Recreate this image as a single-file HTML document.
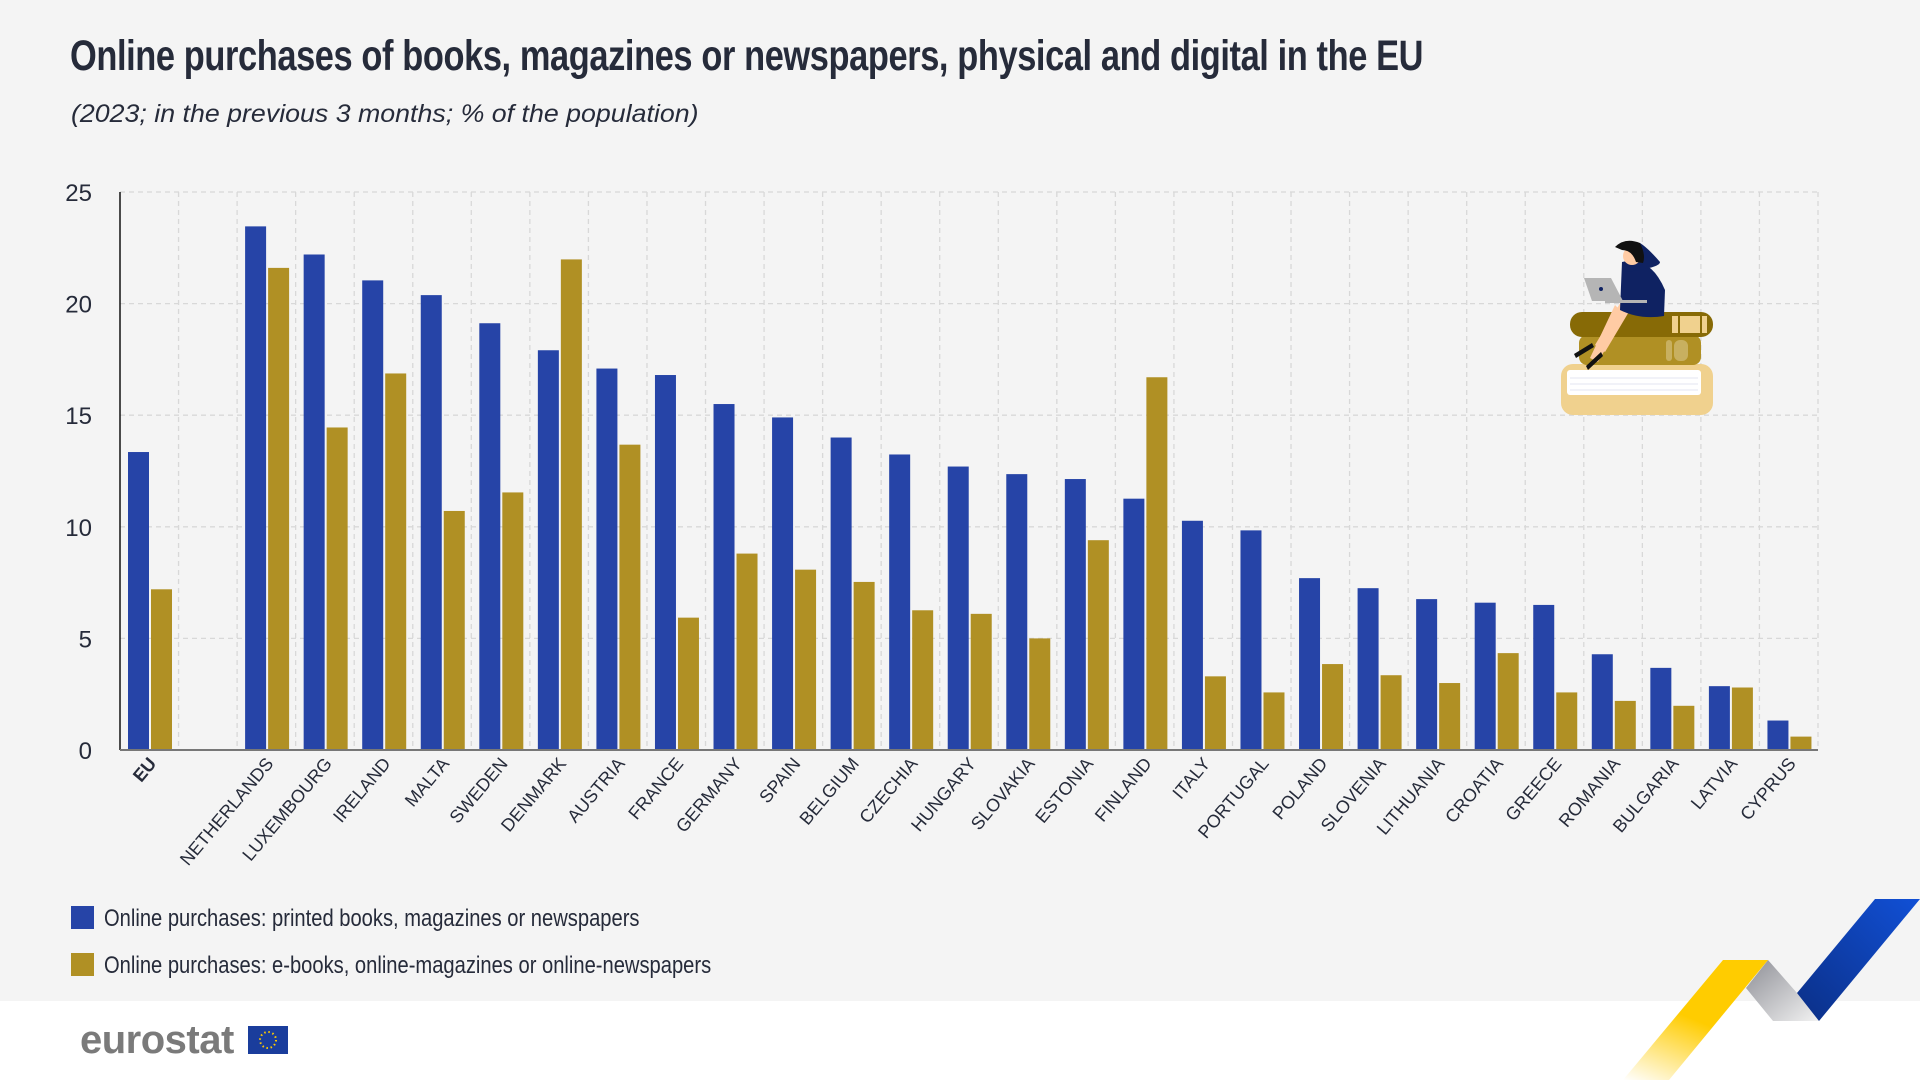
<!DOCTYPE html>
<html><head><meta charset="utf-8">
<style>
html,body{margin:0;padding:0;}
body{width:1920px;height:1080px;background:#f4f4f4;position:relative;overflow:hidden;font-family:"Liberation Sans Narrow","Liberation Sans",sans-serif;}
#title{position:absolute;left:70px;top:32px;font-size:43px;font-weight:bold;color:#262b3a;letter-spacing:-0.5px;white-space:nowrap;transform:scaleX(0.80);transform-origin:0 0;}
#subtitle{position:absolute;left:71px;top:100px;font-family:"Liberation Sans",sans-serif;font-style:italic;font-size:25px;color:#262b3a;white-space:nowrap;transform:scaleX(1.07);transform-origin:0 0;}
#footer{position:absolute;left:0;top:1001px;width:1920px;height:79px;background:#fff;}
</style></head>
<body>
<div id="title">Online purchases of books, magazines or newspapers, physical and digital in the EU</div>
<div id="subtitle">(2023; in the previous 3 months; % of the population)</div>
<div id="footer"></div>
<svg id="chart" width="1920" height="1080" style="position:absolute;left:0;top:0" xmlns="http://www.w3.org/2000/svg"></svg>
<script>
const categories=["EU","","NETHERLANDS","LUXEMBOURG","IRELAND","MALTA","SWEDEN","DENMARK","AUSTRIA","FRANCE","GERMANY","SPAIN","BELGIUM","CZECHIA","HUNGARY","SLOVAKIA","ESTONIA","FINLAND","ITALY","PORTUGAL","POLAND","SLOVENIA","LITHUANIA","CROATIA","GREECE","ROMANIA","BULGARIA","LATVIA","CYPRUS"];
const printed=[13.35,null,23.46,22.2,21.04,20.38,19.12,17.91,17.09,16.8,15.5,14.9,14.0,13.24,12.7,12.36,12.14,11.26,10.27,9.84,7.7,7.25,6.76,6.6,6.5,4.29,3.68,2.86,1.32];
const digital=[7.2,null,21.6,14.45,16.87,10.71,11.54,21.98,13.68,5.93,8.8,8.08,7.53,6.26,6.1,5.0,9.4,16.7,3.3,2.58,3.85,3.35,3.0,4.34,2.58,2.2,1.98,2.8,0.6];
const yTicks=[0,5,10,15,20,25];
const legendLabels=["Online purchases: printed books, magazines or newspapers","Online purchases: e-books, online-magazines or online-newspapers"];

const NS="http://www.w3.org/2000/svg";
const svg=document.getElementById('chart');
const X0=120,X1=1818,Y0=750,Y1=192,YMAX=25;
const slot=(X1-X0)/categories.length;
function y(v){return Y0-(v/YMAX)*(Y0-Y1);}
function xs(i){return X0+i*slot;}
function mk(tag,attrs,parent){const e=document.createElementNS(NS,tag);for(const k in attrs)e.setAttribute(k,attrs[k]);(parent||svg).appendChild(e);return e;}

yTicks.forEach(t=>{
  if(t>0){const g=mk('line',{x1:X0,x2:X1,y1:y(t),y2:y(t),stroke:'#d8d8d8','stroke-width':1.3,'stroke-dasharray':'5,4'});
  
  }
  const tl=mk('text',{x:92,y:y(t)+9,'text-anchor':'end','font-size':24,fill:'#262b3a','font-family':'"Liberation Sans Narrow","Liberation Sans",sans-serif'});
  tl.textContent=t;
  
  
});
for(let i=1;i<=categories.length;i++){
  const g=mk('line',{x1:xs(i),x2:xs(i),y1:Y1,y2:Y0,stroke:'#d8d8d8','stroke-width':1.3,'stroke-dasharray':'5,4'});
  
  
}
const bw=21;
categories.forEach((c,i)=>{
  const sx=xs(i);
  if(printed[i]!=null){
    const b=mk('rect',{x:sx+8,y:y(printed[i]),width:bw,height:Y0-y(printed[i]),fill:'#2644a7'});
    
    
  }
  if(digital[i]!=null){
    const b=mk('rect',{x:sx+8+bw+2,y:y(digital[i]),width:bw,height:Y0-y(digital[i]),fill:'#b09024'});
    
    
  }
  if(c){
    const cx=sx+slot/2+8, cy=764;
    const t=mk('text',{x:cx,y:cy,'text-anchor':'end','font-size':18,fill:'#262b3a','font-weight':c==='EU'?'bold':'normal',transform:'rotate(-50 '+cx+' '+cy+')','font-family':'"Liberation Sans Narrow","Liberation Sans",sans-serif'});
    t.textContent=c;
    
    
  }
});
const ya=mk('line',{x1:X0,x2:X0,y1:Y1,y2:Y0,stroke:'#111','stroke-width':1.5});


const xa=mk('line',{x1:X0,x2:X1,y1:Y0,y2:Y0,stroke:'#777','stroke-width':2});


const lcol=['#2644a7','#b09024'];
legendLabels.forEach((l,i)=>{
  const ly=906+i*47;
  const r=mk('rect',{x:71,y:ly,width:23,height:23,fill:lcol[i]});
  
  
  const t=mk('text',{x:104,y:ly+20,'font-size':24,fill:'#262b3a',transform:'translate(104 0) scale(0.84 1) translate(-104 0)','font-family':'"Liberation Sans Narrow","Liberation Sans",sans-serif'});
  t.textContent=l;
  
  
});
</script>
<svg width="1920" height="1080" style="position:absolute;left:0;top:0" xmlns="http://www.w3.org/2000/svg">
<defs>
<linearGradient id="gy" x1="0" y1="1" x2="0.5" y2="0"><stop offset="0" stop-color="#fff" /><stop offset="0.6" stop-color="#ffcc00"/></linearGradient>
<linearGradient id="gg" x1="0" y1="0" x2="1" y2="1"><stop offset="0" stop-color="#8e8f96"/><stop offset="1" stop-color="#f2f2f2"/></linearGradient>
<linearGradient id="gb" x1="1" y1="0" x2="0" y2="1"><stop offset="0" stop-color="#1150d6"/><stop offset="1" stop-color="#0b2f86"/></linearGradient>
</defs>
<polygon points="1768,960 1746,988 1773,1021 1819,1021 1797,993" fill="url(#gg)"/>
<polygon points="1723,960 1768,960 1669,1080 1623,1080" fill="url(#gy)"/>
<polygon points="1875,899 1920,899 1819,1021 1797,993" fill="url(#gb)"/>
<g>
<rect x="1561" y="364" width="152" height="51" rx="12" fill="#f0d18e"/>
<rect x="1567" y="370" width="134" height="25" rx="3" fill="#fff"/>
<line x1="1570" y1="378" x2="1698" y2="378" stroke="#e3e6f0"/><line x1="1570" y1="384" x2="1698" y2="384" stroke="#e3e6f0"/><line x1="1570" y1="390" x2="1698" y2="390" stroke="#e3e6f0"/>
<rect x="1579" y="335" width="122" height="30" rx="8" fill="#b09024"/>
<rect x="1570" y="312" width="143" height="25" rx="12" fill="#876a06"/>
<rect x="1672" y="316" width="6" height="17" fill="#f0d18e"/><rect x="1680" y="316" width="20" height="17" fill="#f0d18e"/><rect x="1702" y="316" width="5" height="17" fill="#f0d18e"/>
<rect x="1666" y="340" width="6" height="21" rx="3" fill="#c8b060"/><rect x="1674" y="340" width="14" height="21" rx="6" fill="#c8b060"/>
<path d="M1622,300 L1595,345 L1605,352 L1630,310 Z" fill="#ffcba4"/>
<path d="M1615,305 L1590,358 L1598,362 L1625,315 Z" fill="#ffcba4"/>
<path d="M1622,262 Q1650,255 1665,290 L1664,316 Q1640,320 1620,310 Z" fill="#0f2262"/>
<path d="M1640,243 Q1630,252 1625,272 Q1660,268 1660,262 Q1648,248 1640,243 Z" fill="#0f2262"/>
<polygon points="1584,278 1611,278 1623,301 1592,301" fill="#b5b5b5"/>
<circle cx="1601" cy="289" r="2" fill="#0f2262"/>
<rect x="1605" y="300" width="42" height="3" fill="#b5b5b5"/>
<circle cx="1632" cy="256" r="9" fill="#ffcba4"/>
<path d="M1615,247 Q1625,237 1640,243 Q1646,255 1643,263 L1636,262 Q1632,250 1622,250 Z" fill="#111"/>
<path d="M1574,354 L1592,343 L1594,347 L1576,358 Z" fill="#111"/>
<path d="M1586,366 L1601,352 L1603,356 L1588,370 Z" fill="#111"/>
</g>
<text x="80" y="1053" font-family="Liberation Sans, sans-serif" font-weight="bold" font-size="40" fill="#7a7a7a" letter-spacing="-0.5">eurostat</text>
<rect x="248" y="1026" width="40" height="28" fill="#1a3d9c"/>
<circle cx="268" cy="1040" r="8" fill="none" stroke="#ffcc00" stroke-width="2" stroke-dasharray="1.5,2.7"/>
</svg>
</body></html>
